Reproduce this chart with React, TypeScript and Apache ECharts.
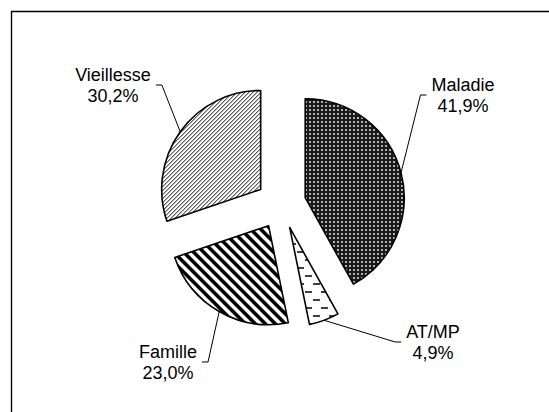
import React, { useEffect, useRef } from "react";
import * as echarts from "echarts";

const categories = ["Maladie", "AT/MP", "Famille", "Vieillesse"];
const shares = [41.9, 4.9, 23.0, 30.2];

// layout
const PIE_CX = 281;
const PIE_CY = 204;
const PIE_R = 99;
const EXPLODE = 25;
// label layout (centre x, middle y of the two-line block)
const LABEL_X = [463, 433, 168, 113];
const LABEL_Y = [95, 342, 362, 85];

function tile(n: number, bg: string, fn: (x: number, y: number) => string | null): string {
  const c = document.createElement("canvas");
  c.width = n;
  c.height = n;
  const ctx = c.getContext("2d")!;
  ctx.fillStyle = bg;
  ctx.fillRect(0, 0, n, n);
  for (let y = 0; y < n; y++) {
    for (let x = 0; x < n; x++) {
      const col = fn(x, y);
      if (col) {
        ctx.fillStyle = col;
        ctx.fillRect(x, y, 1, 1);
      }
    }
  }
  return c.toDataURL();
}

function patterns() {
  const dots = tile(4, "#1a1a1a", (x, y) => (x >= 1 && x <= 2 && y >= 1 && y <= 2 ? "#b0b0b0" : null));
  const dashes = tile(16, "#ffffff", (x, y) => {
    if (y >= 3 && y <= 4 && x >= 1 && x <= 7) return "#404040";
    if (y >= 11 && y <= 12 && x >= 9 && x <= 15) return "#404040";
    return null;
  });
  const wide = tile(10, "#ffffff", (x, y) => {
    const k = (((x - y) % 10) + 10) % 10;
    if (k < 4) return "#000000";
    if (k === 4 || k === 9) return "#7a7a7a";
    return null;
  });
  const thin = tile(4, "#ffffff", (x, y) => {
    const k = (x + y) % 4;
    if (k === 0) return "#606060";
    if (k === 1) return "#b0b0b0";
    return null;
  });
  const mk = (img: string, n: number) => ({ image: img, repeat: "repeat", imageWidth: n, imageHeight: n });
  return [mk(dots, 4), mk(dashes, 16), mk(wide, 10), mk(thin, 4)];
}

export default function App() {
  const ref = useRef<HTMLDivElement>(null);
  useEffect(() => {
    if (!ref.current) return;
    const chart = echarts.init(ref.current, null, { renderer: "svg" });
    const pats = patterns();
    const total = shares.reduce((a, b) => a + b, 0);
    let acc = 0;
    const labelLayout = (params: any) => {
      const i = params.dataIndex;
      const w = params.labelRect.width;
      const cx = LABEL_X[i];
      const cy = LABEL_Y[i];
      const rightSide = i === 0 || i === 1;
      const edge = rightSide ? cx - w / 2 : cx + w / 2;
      const s = rightSide ? -1 : 1;
      const start = params.labelLinePoints ? params.labelLinePoints[0] : [cx, cy];
      return {
        x: cx,
        y: cy,
        align: "center",
        verticalAlign: "middle",
        labelLinePoints: [start, [edge + s * 11, cy], [edge + s * 5, cy]],
      };
    };
    const series = categories.map((name, k) => {
      const a0 = (acc / total) * 2 * Math.PI;
      acc += shares[k];
      const a1 = (acc / total) * 2 * Math.PI;
      const mid = (a0 + a1) / 2;
      const center = [PIE_CX + EXPLODE * Math.sin(mid), PIE_CY - EXPLODE * Math.cos(mid)];
      return {
        type: "pie",
        name,
        center,
        radius: [0, PIE_R],
        startAngle: 90,
        clockwise: true,
        avoidLabelOverlap: false,
        silent: true,
        emphasis: { disabled: true },
        label: {
          show: false,
          position: "outside",
          color: "#000000",
          fontFamily: "'Liberation Sans', Arial, sans-serif",
          fontSize: 18,
          lineHeight: 21,
          align: "center",
          formatter: (p: any) => `${p.name}\n${p.value.toFixed(1).replace(".", ",")}%`,
        },
        labelLine: {
          show: false,
          lineStyle: { color: "#000000", width: 1 },
        },
        labelLayout,
        data: categories.map((n, i) => ({
          name: n,
          value: shares[i],
          itemStyle:
            i === k
              ? { color: pats[i] as any, borderColor: "#000000", borderWidth: 1.6 }
              : { color: "rgba(0,0,0,0)", borderWidth: 0 },
          label: { show: i === k },
          labelLine: { show: i === k },
        })),
      };
    });
    chart.setOption({
      animation: false,
      backgroundColor: "#ffffff",
      graphic: [
        {
          type: "rect",
          shape: { x: 11.5, y: 11.5, width: 600, height: 500 },
          style: { fill: "none", stroke: "#000000", lineWidth: 1.4 },
          silent: true,
        },
      ],
      series,
    });
    return () => chart.dispose();
  }, []);
  return (
    <div
      ref={ref}
      style={{ position: "fixed", left: 0, top: 0, width: 549, height: 412, background: "#fff" }}
    />
  );
}
